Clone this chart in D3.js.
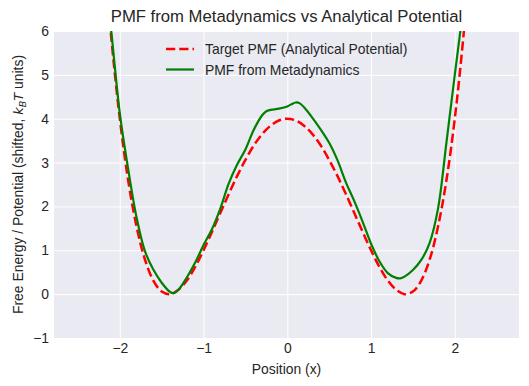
<!DOCTYPE html>
<html>
<head>
<meta charset="utf-8">
<script src="https://cdn.jsdelivr.net/npm/d3@7"></script>
<style>
  body { margin: 0; background: #fff; }
  text { font-family: "Liberation Sans", Arial, sans-serif; fill: #262626; }
</style>
</head>
<body>
<div id="chart"></div>
<script>
// values
const targetX = [-2.2, -2.1, -2.0, -1.9, -1.8, -1.7, -1.6, -1.5, -1.4, -1.3, -1.2, -1.1, -1.0,
  -0.9, -0.8, -0.7, -0.6, -0.5, -0.4, -0.3, -0.2, -0.1, 0.0, 0.1, 0.2, 0.3, 0.4, 0.5, 0.6,
  0.7, 0.8, 0.9, 1.0, 1.1, 1.2, 1.3, 1.4, 1.5, 1.6, 1.7, 1.8, 1.9, 2.0, 2.1, 2.2];
const targetPMF = [8.07, 5.81, 4.0, 2.59, 1.54, 0.79, 0.31, 0.06, 0.0, 0.1, 0.31, 0.62, 1.0,
  1.42, 1.85, 2.28, 2.69, 3.06, 3.39, 3.65, 3.84, 3.96, 4.0, 3.96, 3.84, 3.65, 3.39, 3.06, 2.69,
  2.28, 1.85, 1.42, 1.0, 0.62, 0.31, 0.1, 0.0, 0.06, 0.31, 0.79, 1.54, 2.59, 4.0, 5.81, 8.07];

const metaX = [-2.15, -2.1, -2.0, -1.9, -1.8, -1.7, -1.6, -1.5, -1.4, -1.36, -1.3, -1.2, -1.1, -1.0,
  -0.9, -0.8, -0.7, -0.6, -0.5, -0.4, -0.3, -0.25, -0.2, -0.1, 0.0, 0.05, 0.1, 0.15, 0.2, 0.3,
  0.4, 0.5, 0.6, 0.7, 0.8, 0.9, 1.0, 1.1, 1.2, 1.3, 1.35, 1.4, 1.5, 1.6, 1.7, 1.8, 1.9, 2.0, 2.07, 2.12];
const metaPMF = [6.8, 5.95, 4.12, 2.85, 1.75, 0.98, 0.56, 0.26, 0.05, 0.02, 0.1, 0.38, 0.72, 1.12,
  1.48, 1.95, 2.52, 2.95, 3.3, 3.75, 4.08, 4.17, 4.2, 4.23, 4.28, 4.33, 4.37, 4.35, 4.26, 4.02,
  3.75, 3.45, 3.05, 2.55, 2.12, 1.65, 1.15, 0.75, 0.48, 0.37, 0.36, 0.4, 0.55, 0.78, 1.17, 1.95, 3.45, 5.0, 6.05, 6.9];

const xTicks = [-2, -1, 0, 1, 2];
const yTicks = [-1, 0, 1, 2, 3, 4, 5, 6];

const width = 529, height = 386;
const m = {left: 54, right: 519, top: 31, bottom: 338};

const svg = d3.select('#chart').append('svg')
    .attr('width', width)
    .attr('height', height);

const x = d3.scaleLinear().domain([-2.786, 2.767]).range([m.left, m.right]);
const y = d3.scaleLinear().domain([-1, 6]).range([m.bottom, m.top]);

// panel
svg.append('rect')
    .attr('x', m.left).attr('y', m.top)
    .attr('width', m.right - m.left).attr('height', m.bottom - m.top)
    .attr('fill', '#eaeaf2');

svg.append('defs').append('clipPath').attr('id', 'clip')
  .append('rect')
    .attr('x', m.left).attr('y', m.top)
    .attr('width', m.right - m.left).attr('height', m.bottom - m.top);

// axes with white grid
const fmt = d3.format('d');
const xAxis = svg.append('g')
    .attr('transform', `translate(0,${m.bottom})`)
    .call(d3.axisBottom(x).tickValues(xTicks).tickFormat(fmt).tickSize(-(m.bottom - m.top)).tickPadding(5));
const yAxis = svg.append('g')
    .attr('transform', `translate(${m.left},0)`)
    .call(d3.axisLeft(y).tickValues(yTicks).tickFormat(fmt).tickSize(-(m.right - m.left)).tickPadding(5));

[xAxis, yAxis].forEach(a => {
  a.select('.domain').remove();
  a.selectAll('.tick line').attr('stroke', '#fff').attr('stroke-width', 1);
  a.selectAll('.tick text').attr('font-size', 13.9).attr('fill', '#262626')
    .style('font-family', '"Liberation Sans", Arial, sans-serif');
});

// curves
const line = d3.line()
    .x(d => x(d[0]))
    .y(d => y(d[1]))
    .curve(d3.curveCatmullRom);

const plot = svg.append('g').attr('clip-path', 'url(#clip)');

plot.append('path')
    .datum(d3.zip(targetX, targetPMF))
    .attr('d', line)
    .attr('fill', 'none')
    .attr('stroke', '#ff0000')
    .attr('stroke-width', 2.5)
    .attr('stroke-dasharray', '9.25,4');

plot.append('path')
    .datum(d3.zip(metaX, metaPMF))
    .attr('d', line)
    .attr('fill', 'none')
    .attr('stroke', '#008000')
    .attr('stroke-width', 2.2);

// legend
const legend = svg.append('g');
const items = [
  {label: 'Target PMF (Analytical Potential)', color: '#ff0000', dash: '9.25,4', w: 2.5},
  {label: 'PMF from Metadynamics', color: '#008000', dash: null, w: 2.2}
];
items.forEach((it, i) => {
  const ly = 49 + i * 20.5;
  legend.append('line')
      .attr('x1', 166).attr('x2', 194)
      .attr('y1', ly).attr('y2', ly)
      .attr('stroke', it.color)
      .attr('stroke-width', it.w)
      .attr('stroke-dasharray', it.dash);
  legend.append('text')
      .attr('x', 205).attr('y', ly + 5)
      .attr('font-size', 13.9)
      .text(it.label);
});

// title and labels
svg.append('text')
    .attr('x', (m.left + m.right) / 2).attr('y', 22)
    .attr('text-anchor', 'middle')
    .attr('font-size', 16.7)
    .text('PMF from Metadynamics vs Analytical Potential');

svg.append('text')
    .attr('x', (m.left + m.right) / 2).attr('y', 374)
    .attr('text-anchor', 'middle')
    .attr('font-size', 13.9)
    .text('Position (x)');

const yl = svg.append('text')
    .attr('transform', `translate(23,${(m.top + m.bottom) / 2}) rotate(-90)`)
    .attr('text-anchor', 'middle')
    .attr('font-size', 13.9);
yl.append('tspan').text('Free Energy / Potential (shifted, ');
yl.append('tspan').attr('font-style', 'italic').style('font-family', '"DejaVu Sans", sans-serif').attr('font-size', 13).text('k');
yl.append('tspan').attr('font-style', 'italic').style('font-family', '"DejaVu Sans", sans-serif').attr('font-size', 9.5).attr('dy', 3).text('B');
yl.append('tspan').attr('font-style', 'italic').style('font-family', '"DejaVu Sans", sans-serif').attr('font-size', 13).attr('dy', -3).text('T');
yl.append('tspan').text(' units)');
</script>
</body>
</html>
